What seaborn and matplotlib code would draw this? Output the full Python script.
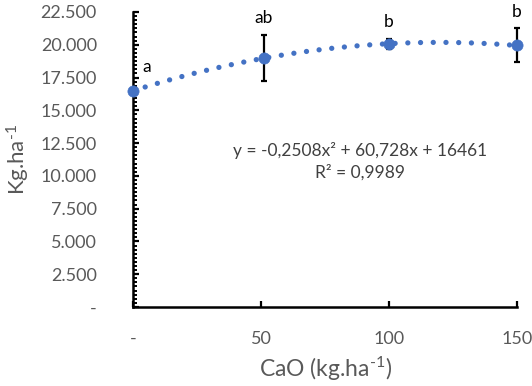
import matplotlib
matplotlib.use("Agg")
import matplotlib.pyplot as plt
import seaborn as sns
import pandas as pd
from matplotlib.ticker import MultipleLocator, AutoMinorLocator, FuncFormatter

# Dose de CaO (kg/ha) e produtividade média (kg/ha)
dose = [0, 51, 100, 150]
produtividade = [16480, 19000, 20050, 19950]
erro = [0, 1750, 380, 1300]
letras = ["a", "ab", "b", "b"]

equacao = "y = -0,2508x² + 60,728x + 16461"
r2 = "R² = 0,9989"

df = pd.DataFrame({"dose": dose, "prod": produtividade, "erro": erro, "letra": letras})

AZUL = "#4472C4"
CINZA = "#595959"

sns.set_style("white")
plt.rcParams["font.family"] = ["Lato", "DejaVu Sans"]
plt.rcParams["mathtext.fontset"] = "custom"
plt.rcParams["mathtext.rm"] = "Lato"
plt.rcParams["mathtext.default"] = "regular"

fig = plt.figure(figsize=(5.32, 3.86), dpi=100)
ax = fig.add_axes([0.25, 0.2047, 0.722, 0.7643])

# linha de tendência polinomial (ordem 2), pontilhada
sns.regplot(data=df, x="dose", y="prod", order=2, ci=None, scatter=False, ax=ax,
            line_kws=dict(color=AZUL, lw=3.8, ls=(0, (0.01, 2.4)),
                          solid_capstyle="round", dash_capstyle="round", zorder=3))

ax.errorbar(df["dose"], df["prod"], yerr=df["erro"], fmt="none", ecolor="black",
            elinewidth=1.6, capsize=2.5, capthick=1.6, zorder=2, clip_on=False)

sns.scatterplot(data=df, x="dose", y="prod", ax=ax, color=AZUL, s=65,
                edgecolor=AZUL, linewidth=0.5, zorder=4, clip_on=False)

# letras de significância
for i, row in df.iterrows():
    if i == 0:
        ax.annotate(row["letra"], (row["dose"], row["prod"]), xytext=(10, 17),
                    textcoords="offset points", ha="center", va="center",
                    fontsize=12.5, color="black")
    else:
        ax.annotate(row["letra"], (row["dose"], row["prod"] + row["erro"]), xytext=(0, 12),
                    textcoords="offset points", ha="center", va="center",
                    fontsize=12.5, color="black", annotation_clip=False)

ax.text(0.59, 0.53, equacao, transform=ax.transAxes, ha="center", va="center",
        fontsize=12.5, color="#404040")
ax.text(0.59, 0.455, r2, transform=ax.transAxes, ha="center", va="center",
        fontsize=12.5, color="#404040")

ax.set_xlim(0, 150)
ax.set_ylim(0, 22500)
ax.set_xticks([0, 50, 100, 150])
ax.yaxis.set_major_locator(MultipleLocator(2500))
ax.yaxis.set_minor_locator(AutoMinorLocator(8))

def fmt_milhar(v, pos):
    if v == 0:
        return "-"
    return f"{v:,.0f}".replace(",", ".")

ax.yaxis.set_major_formatter(FuncFormatter(fmt_milhar))
ax.xaxis.set_major_formatter(FuncFormatter(lambda v, p: "-" if v == 0 else f"{v:.0f}"))

for s in ["top", "right"]:
    ax.spines[s].set_visible(False)
for s in ["left", "bottom"]:
    ax.spines[s].set_color("black")
    ax.spines[s].set_linewidth(1.8)

ax.tick_params(axis="y", which="both", left=True)
ax.tick_params(axis="x", which="both", bottom=True)
ax.tick_params(axis="y", which="major", direction="in", length=4.5, width=1.6,
               color="black", labelsize=13, labelcolor=CINZA, pad=26)
ax.tick_params(axis="y", which="minor", direction="in", length=3, width=1.4, color="black")
ax.tick_params(axis="x", which="major", direction="in", length=4, width=1.6,
               color="black", labelsize=13, labelcolor=CINZA, pad=17)

ax.set_xlabel("CaO (kg.ha$^{\u2010 1}$)", fontsize=16.5, color=CINZA, labelpad=6)
ax.set_ylabel("Kg.ha$^{\u2010 1}$", fontsize=16, color=CINZA, labelpad=6)

fig.savefig("out.png", dpi=100)
